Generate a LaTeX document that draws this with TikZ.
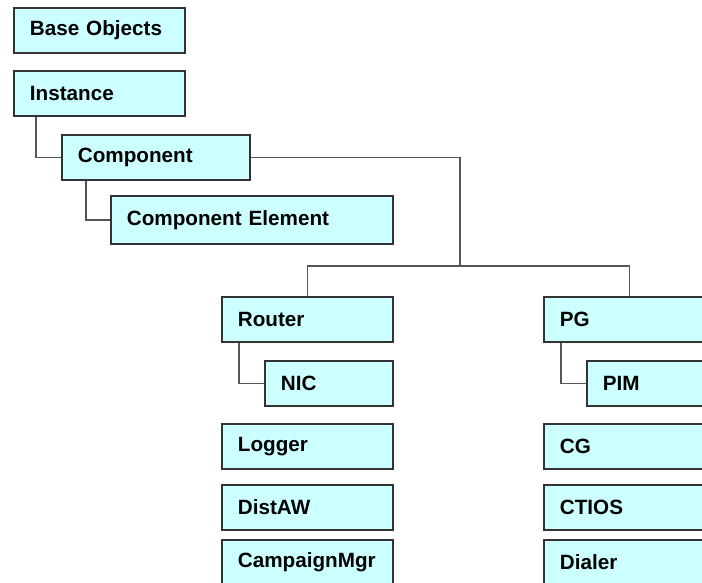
\documentclass[tikz,border=0pt]{standalone}
\usepackage{fontspec}
\setmainfont{Liberation Sans}
\usepackage{tikz}

\definecolor{boxfill}{HTML}{CCFFFF}
\definecolor{boxline}{HTML}{333333}
\definecolor{linkline}{HTML}{555555}

\begin{document}
\begin{tikzpicture}[x=0.75pt, y=-0.75pt,
    obj/.style={draw=boxline, line width=1.4pt, fill=boxfill, anchor=north west,
        inner xsep=12pt, inner ysep=0pt, minimum height=33.75pt, align=left,
        font=\fontsize{15.5}{18}\selectfont\bfseries},
    w171/.style={obj, text width=104.25pt},
    w188/.style={obj, text width=117pt},
    w282/.style={obj, text width=187.5pt},
    w128/.style={obj, text width=72pt},
    link/.style={draw=linkline, line width=1.4pt}]
    \useasboundingbox (0,0) rectangle (702,582);
    \clip (0,0) rectangle (702,582);

    \node[w171] (base) at (13,7) {Base Objects};
    \node[w171] (inst) at (13,70) {Instance};
    \node[w188] (comp) at (61,134) {Component};
    \node[w282, minimum height=36pt] (elem) at (110,195) {Component Element};

    \node[w171] (router) at (221,296) {Router};
    \node[w128] (nic) at (264,360) {NIC};
    \node[w171] (logger) at (221,423) {Logger};
    \node[w171] (distaw) at (221,484) {DistAW};
    \node[w171] (campmgr) at (221,539) {CampaignMgr};

    \node[w171] (pg) at (543,296) {PG};
    \node[w128] (pim) at (586,360) {PIM};
    \node[w171] (cg) at (543,423) {CG};
    \node[w171] (ctios) at (543,484) {CTIOS};
    \node[w171] (dialer) at (543,539) {Dialer};

    \coordinate (bus) at (460,266);

    \draw[link] ([xshift=17.25pt]inst.south west) |- (comp.west);
    \draw[link] ([xshift=18.75pt]comp.south west) |- (elem.west);
    \draw[link] (comp.east) -| (bus);
    \draw[link] (router.north) |- (bus) -| (pg.north);
    \draw[link] ([xshift=13.5pt]router.south west) |- (nic.west);
    \draw[link] ([xshift=13.5pt]pg.south west) |- (pim.west);
\end{tikzpicture}
\end{document}
